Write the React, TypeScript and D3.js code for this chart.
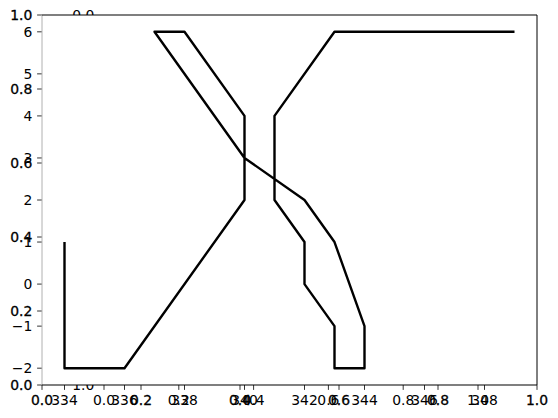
import React from 'react';
import * as d3 from 'd3';

// data series
const xValues = [334, 334, 336, 340, 340, 338, 337, 340, 342, 343, 344, 344, 343, 343, 342, 342, 341, 341, 343, 349];
const yValues = [1, -2, -2, 2, 4, 6, 6, 3, 2, 1, -1, -2, -2, -1, 0, 1, 2, 4, 6, 6];

const dataXTicks = [334, 336, 338, 340, 342, 344, 346, 348];
const dataYTicks = [-2, -1, 0, 1, 2, 3, 4, 5, 6];
const unitTicks = [0, 0.2, 0.4, 0.6, 0.8, 1.0];
const hiddenYTicks = [0, 1.0];

const W = 558;
const H = 418;
const FONT = '"DejaVu Sans", sans-serif';
const FS = 13.9;

function App() {
  const left = 42, right = 537, top = 15, bottom = 385;

  // base 0..1 axes (drawn twice in the original, so labels look heavier)
  const ux = d3.scaleLinear().domain([0, 1]).range([left, right]);
  const uy = d3.scaleLinear().domain([0, 1]).range([bottom, top]);

  // the data axes
  const x = d3.scaleLinear().domain([333.25, 349.75]).range([left, right]);
  const y = d3.scaleLinear().domain([-2.4, 6.4]).range([bottom, top]);

  // the axes underneath, mostly hidden
  const hx = d3.scaleLinear().domain([0, 1]).range([104, 478]);
  const hy = d3.scaleLinear().domain([0, 1]).range([top, bottom]);

  const line = d3.line<number>()
    .x((_, i) => x(xValues[i]))
    .y((_, i) => y(yValues[i]));

  const fmt1 = d3.format('.1f');
  const fmtInt = (v: number) => (v < 0 ? '\u2212' + Math.abs(v) : String(v));
  const tick = 4.9;
  const labelY = bottom + tick + 4.9 + FS * 0.76;

  return (
    <div style={{ position: 'fixed', left: 0, top: 0 }}>
      <svg width={W} height={H} style={{ display: 'block' }} fontFamily={FONT} fontSize={FS}>
        <rect width={W} height={H} fill="#fff" />
        <defs>
          <clipPath id="plot">
            <rect x={left} y={top} width={right - left} height={bottom - top} />
          </clipPath>
        </defs>

        {/* hidden axes below */}
        <g>
          {hiddenYTicks.map(v => (
            <text key={'hy' + v} x={104 - 9.7} y={hy(v)} dy="0.36em" textAnchor="end" fill="#000">{fmt1(v)}</text>
          ))}
          {unitTicks.map(v => (
            <g key={'hx' + v}>
              <line x1={hx(v)} x2={hx(v)} y1={bottom} y2={bottom + tick} stroke="#000" strokeWidth={0.8} />
              <text x={hx(v)} y={labelY} textAnchor="middle" fill="#000">{fmt1(v)}</text>
            </g>
          ))}
        </g>

        {/* upper axes background */}
        <rect x={left} y={top} width={right - left} height={bottom - top} fill="#fff" />

        {/* base 0..1 ticks */}
        <g>
          {unitTicks.map(v => (
            <g key={'ux' + v}>
              <line x1={ux(v)} x2={ux(v)} y1={bottom} y2={bottom + tick} stroke="#000" strokeWidth={0.8} />
              <text x={ux(v)} y={labelY} textAnchor="middle" fill="#000" stroke="#000" strokeWidth={0.3}>{fmt1(v)}</text>
            </g>
          ))}
          {unitTicks.map(v => (
            <g key={'uy' + v}>
              <line x1={left - tick} x2={left} y1={uy(v)} y2={uy(v)} stroke="#000" strokeWidth={0.8} />
              <text x={left - 9.7} y={uy(v)} dy="0.36em" textAnchor="end" fill="#000" stroke="#000" strokeWidth={0.3}>{fmt1(v)}</text>
            </g>
          ))}
        </g>

        {/* data ticks */}
        <g>
          {dataXTicks.map(v => (
            <g key={'dx' + v}>
              <line x1={x(v)} x2={x(v)} y1={bottom} y2={bottom + tick} stroke="#000" strokeWidth={0.8} />
              <text x={x(v)} y={labelY} textAnchor="middle" fill="#000">{v}</text>
            </g>
          ))}
          {dataYTicks.map(v => (
            <g key={'dy' + v}>
              <line x1={left - tick} x2={left} y1={y(v)} y2={y(v)} stroke="#000" strokeWidth={0.8} />
              <text x={left - 9.7} y={y(v)} dy="0.36em" textAnchor="end" fill="#000">{fmtInt(v)}</text>
            </g>
          ))}
        </g>

        <path d={line(xValues) || ''} fill="none" stroke="#000" strokeWidth={2.4} strokeLinejoin="round" clipPath="url(#plot)" />

        {/* spines */}
        <line x1={left} x2={left} y1={top} y2={bottom} stroke="#b0b0b0" strokeWidth={1} />
        <line x1={left} x2={right} y1={top} y2={top} stroke="#000" strokeWidth={1.2} />
        <line x1={right} x2={right} y1={top} y2={bottom} stroke="#000" strokeWidth={1} />
        <line x1={left} x2={right} y1={bottom} y2={bottom} stroke="#000" strokeWidth={1.2} />
      </svg>
    </div>
  );
}

export default App;
